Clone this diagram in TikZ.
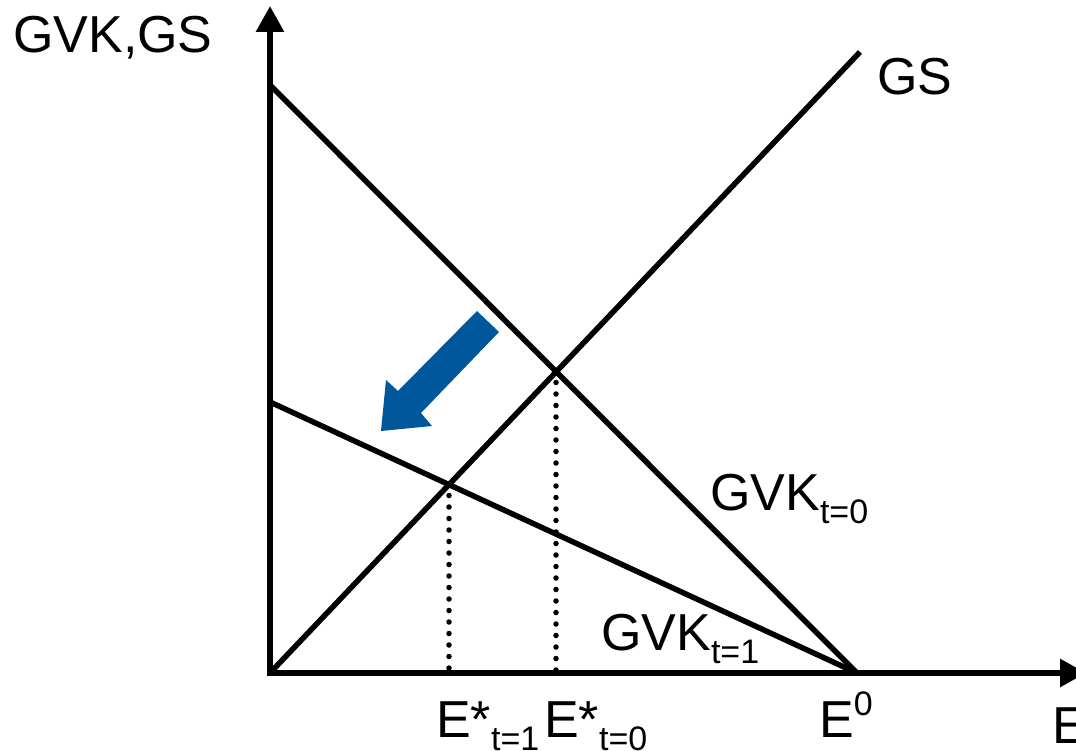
\documentclass[tikz,border=0pt]{standalone}
\usepackage{fontspec}
\setmainfont{Liberation Sans}
\usetikzlibrary{arrows.meta}
\definecolor{arrowblue}{RGB}{0,87,156}
\newcommand{\lowsub}[1]{\raisebox{-13pt}{\fontsize{34}{34}\selectfont #1}}
\newcommand{\highsup}[1]{\raisebox{22pt}{\fontsize{34}{34}\selectfont #1}}
\tikzset{
  curve/.style={line width=5.5pt},
  axis/.style={line width=6pt,-{Triangle[length=26pt,width=27pt]}},
  guide/.style={line width=5.5pt,line cap=round,dash pattern=on 0pt off 11.5pt},
  lab/.style={inner sep=0pt,anchor=base west,font=\fontsize{52}{62}\selectfont}
}
\begin{document}
\begin{tikzpicture}[x=1pt,y=-1pt]
\useasboundingbox (0,0) rectangle (1076,751);
\coordinate (O) at (270,673);
\coordinate (ytip) at (270,6);
\coordinate (xtip) at (1086,673);
\coordinate (A0) at (270,85);
\coordinate (A1) at (270,402);
\coordinate (E0) at (857,673);
\coordinate (GSend) at (860,52);
\coordinate (S0) at (556,371);
\coordinate (S1) at (449,484);
\coordinate (S0b) at (556,673);
\coordinate (S1b) at (449,673);
% curves
\draw[curve] (A0) -- (E0);
\draw[curve] (A1) -- (E0);
\draw[curve] (O) -- (GSend);
% dotted guides
\draw[guide] (S0) -- (S0b);
\draw[guide] (S1) -- (S1b);
% axes
\draw[axis] (270,676) -- (ytip);
\draw[axis] (267,673) -- (xtip);
% blue arrow
\fill[arrowblue] (477,311) -- (499,332) -- (421,413) -- (432,426) -- (381,431) -- (386,380) -- (398,391) -- cycle;
% labels
\node[lab] (ylab) at (13,53) {GVK,GS};
\node[lab] (gslab) at (877,95) {GS};
\node[lab] (g0lab) at (710,510) {GVK\lowsub{t=0}};
\node[lab] (g1lab) at (601,650) {GVK\lowsub{t=1}};
\node[lab] (e1lab) at (436,737) {E*\lowsub{t=1}};
\node[lab] (e0lab) at (544,737) {E*\lowsub{t=0}};
\node[lab] (eolab) at (819,737) {E\highsup{0}};
\node[lab] (xlab) at (1052,743) {E};
\end{tikzpicture}
\end{document}
